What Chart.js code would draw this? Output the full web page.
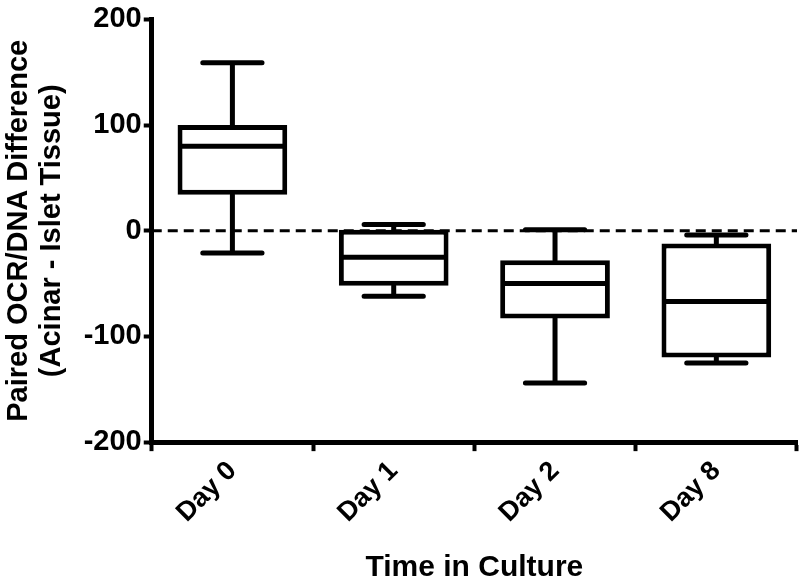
<!DOCTYPE html>
<html>
<head>
<meta charset="utf-8">
<script src="https://cdn.jsdelivr.net/npm/chart.js@4.4.1/dist/chart.umd.min.js"></script>
<style>
  html, body { margin: 0; padding: 0; background: #fff; }
  #wrap { width: 800px; height: 583px; }
</style>
</head>
<body>
<div id="wrap"><canvas id="c" width="800" height="583"></canvas></div>
<script>
const categories = ['Day 0', 'Day 1', 'Day 2', 'Day 8'];
const whiskerMin = [-21, -62, -144, -125];
const q1Values = [34, -52, -83, -120];
const medianValues = [80, -25, -50, -67];
const q3Values = [100, 1, -28, -12];
const whiskerMax = [159, 6, 1, -4];
const yTicks = [-200, -100, 0, 100, 200];

const FONT = "'Liberation Sans', Arial, Helvetica, sans-serif";

const boxPlugin = {
  id: 'boxExtras',
  beforeDatasetsDraw(chart) {
    const { ctx, chartArea, scales } = chart;
    const y0 = scales.y.getPixelForValue(0);
    ctx.save();
    ctx.strokeStyle = '#000';
    ctx.lineWidth = 3;
    ctx.setLineDash([10, 6]);
    ctx.beginPath();
    ctx.moveTo(chartArea.left, y0);
    ctx.lineTo(chartArea.right, y0);
    ctx.stroke();
    ctx.restore();
  },
  afterDatasetsDraw(chart) {
    const { ctx, scales } = chart;
    const meta = chart.getDatasetMeta(0);
    ctx.save();
    ctx.strokeStyle = '#000';
    ctx.lineWidth = 5;
    ctx.lineCap = 'round';
    categories.forEach((c, i) => {
      const bar = meta.data[i];
      const x = scales.x.getPixelForValue(i);
      const w = bar.width;
      const capW = w * 0.54;
      const pMax = scales.y.getPixelForValue(whiskerMax[i]);
      const pQ3 = scales.y.getPixelForValue(q3Values[i]);
      const pQ1 = scales.y.getPixelForValue(q1Values[i]);
      const pMin = scales.y.getPixelForValue(whiskerMin[i]);
      const pMed = scales.y.getPixelForValue(medianValues[i]);
      ctx.beginPath();
      ctx.moveTo(x, pQ3); ctx.lineTo(x, pMax);
      ctx.moveTo(x - capW / 2, pMax); ctx.lineTo(x + capW / 2, pMax);
      ctx.moveTo(x, pQ1); ctx.lineTo(x, pMin);
      ctx.moveTo(x - capW / 2, pMin); ctx.lineTo(x + capW / 2, pMin);
      ctx.stroke();
      ctx.lineCap = 'butt';
      ctx.beginPath();
      ctx.moveTo(x - w / 2 + 2, pMed); ctx.lineTo(x + w / 2 - 2, pMed);
      ctx.stroke();
      ctx.lineCap = 'round';
    });
    ctx.restore();
  }
};

new Chart(document.getElementById('c'), {
  type: 'bar',
  data: {
    labels: categories,
    datasets: [{
      data: categories.map((c, i) => [q1Values[i], q3Values[i]]),
      backgroundColor: '#ffffff',
      borderColor: '#000000',
      borderWidth: 5,
      borderSkipped: false,
      categoryPercentage: 1.0,
      barPercentage: 0.68
    }]
  },
  options: {
    responsive: false,
    animation: false,
    layout: { padding: { top: 10, right: 3, left: 2, bottom: 0 } },
    plugins: { legend: { display: false }, tooltip: { enabled: false } },
    scales: {
      x: {
        offset: true,
        grid: { display: true, drawOnChartArea: false, drawTicks: true, tickLength: 9, tickWidth: 4, tickColor: '#000' },
        border: { display: true, color: '#000', width: 5 },
        ticks: {
          color: '#000', maxRotation: 45, minRotation: 45, padding: 4,
          font: { family: FONT, size: 27, weight: 'bold' }
        },
        title: {
          display: true, text: 'Time in Culture', color: '#000',
          font: { family: FONT, size: 30, weight: 'bold', lineHeight: 1.0 },
          padding: { top: 20, bottom: 0 }
        }
      },
      y: {
        min: -200, max: 200,
        afterBuildTicks(scale) { scale.ticks = yTicks.map(v => ({ value: v })); },
        grid: { display: true, drawOnChartArea: false, drawTicks: true, tickLength: 8, tickWidth: 4, tickColor: '#000' },
        border: { display: true, color: '#000', width: 5 },
        ticks: {
          color: '#000', padding: 2,
          font: { family: FONT, size: 29, weight: 'bold' }
        },
        title: {
          display: true, text: ['Paired OCR/DNA Difference', '(Acinar - Islet Tissue)'], color: '#000',
          font: { family: FONT, size: 29, weight: 'bold', lineHeight: 1.15 },
          padding: { top: 0, bottom: 13 }
        }
      }
    }
  },
  plugins: [boxPlugin]
});
</script>
</body>
</html>
